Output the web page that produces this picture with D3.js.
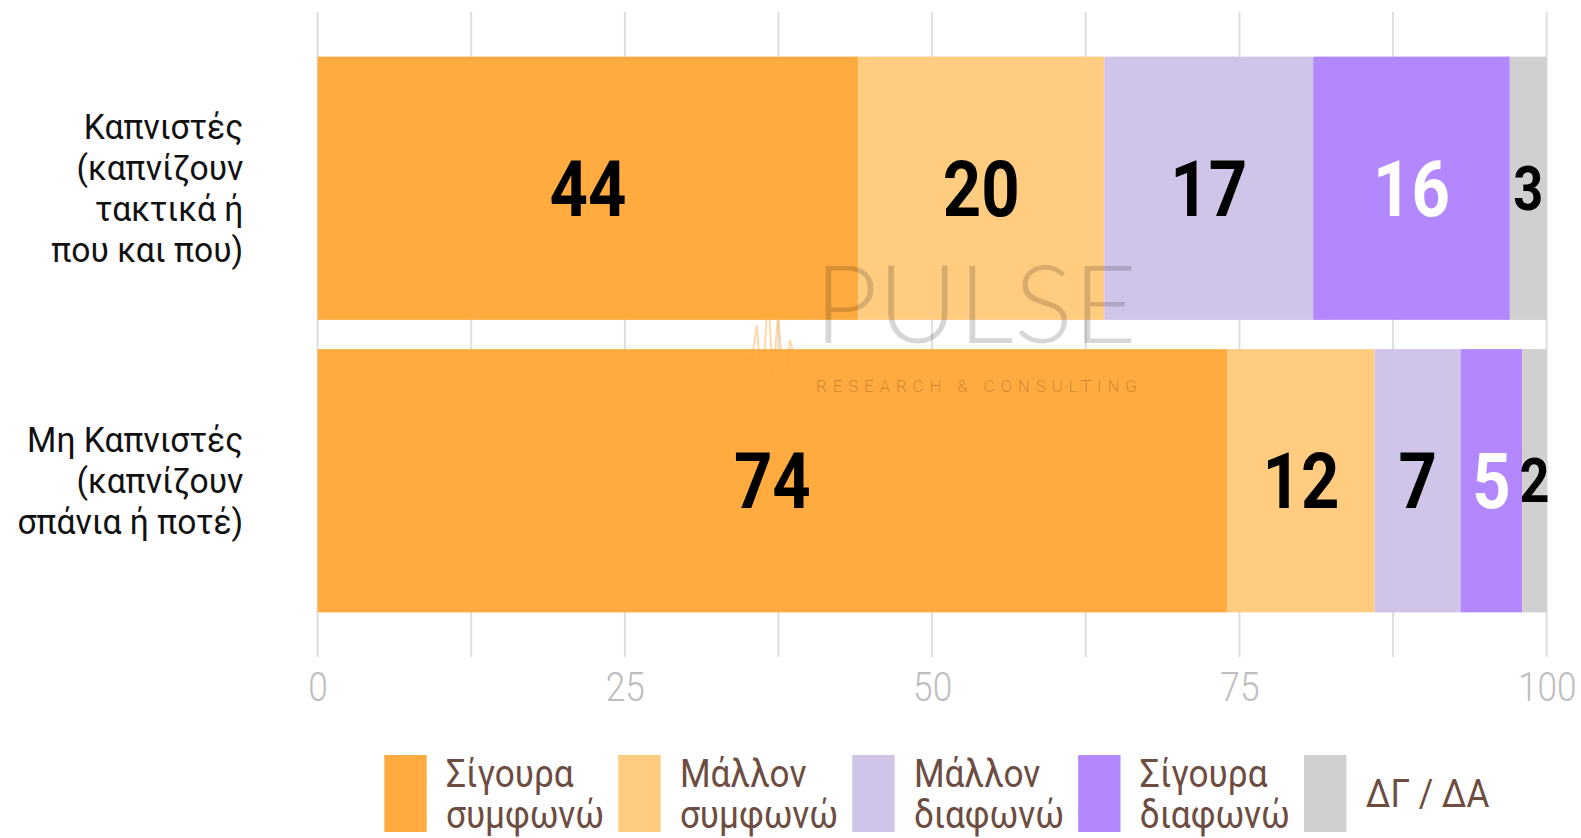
<!DOCTYPE html>
<html lang="el">
<head>
<meta charset="UTF-8">
<title>Καπνιστές</title>
<script src="https://cdn.jsdelivr.net/npm/d3@7/dist/d3.min.js"></script>
<style>
  html, body { margin: 0; padding: 0; background: #fff; }
  text { font-family: Roboto, "Noto Sans", sans-serif; }
</style>
</head>
<body>
<div class="chart"></div>
<script>
// data
const categories = ["Καπνιστές\n(καπνίζουν\nτακτικά ή\nπου και που)", "Μη Καπνιστές\n(καπνίζουν\nσπάνια ή ποτέ)"]
const seriesNames = ["Σίγουρα\nσυμφωνώ", "Μάλλον\nσυμφωνώ", "Μάλλον\nδιαφωνώ", "Σίγουρα\nδιαφωνώ", "ΔΓ / ΔΑ"]
const sigouraSymfono = [44, 74]
const mallonSymfono = [20, 12]
const mallonDiafono = [17, 7]
const sigouraDiafono = [16, 5]
const dgDa = [3, 2]
const xTicks = [0, 25, 50, 75, 100]

const seriesColors = ["#ffab40", "#ffcc80", "#d1c4e9", "#b388ff", "#d0d0d0"]
const labelColors = ["#000", "#000", "#000", "#fff", "#000"]

const W = 1581, H = 838
const sx = 0.86 // fake condensed

let rows = categories.map((c, i) => ({
    cat: c,
    s0: sigouraSymfono[i], s1: mallonSymfono[i], s2: mallonDiafono[i], s3: sigouraDiafono[i], s4: dgDa[i]
}))
let keys = ["s0", "s1", "s2", "s3", "s4"]
let stacked = d3.stack().keys(keys)(rows)

let x = d3.scaleLinear().domain([0, 100]).range([317.6, 1546.7])
let y = d3.scaleBand().domain(categories).range([42, 627]).paddingInner(0.1).paddingOuter(0.05)
let color = d3.scaleOrdinal().domain(keys).range(seriesColors)
let labelColor = d3.scaleOrdinal().domain(keys).range(labelColors)

let svg = d3.select('.chart').append('svg').attr('width', W).attr('height', H)

// gridlines
svg.append('g').selectAll('line').data(d3.range(0, 100.1, 12.5)).join('line')
    .attr('x1', d => x(d)).attr('x2', d => x(d))
    .attr('y1', 12).attr('y2', 657)
    .attr('stroke', '#dedede').attr('stroke-width', 2)

// bars
let layers = svg.append('g').selectAll('g').data(stacked).join('g')
    .attr('fill', d => color(d.key))
layers.selectAll('rect').data(d => d).join('rect')
    .attr('x', d => x(d[0])).attr('width', d => x(d[1]) - x(d[0]))
    .attr('y', d => y(d.data.cat)).attr('height', y.bandwidth())

// watermark
let wm = svg.append('g')
wm.append('path')
    .attr('d', 'M737,360 L752,358 L757,325 L762,397 L768,292 L773,380 L778,315 L784,390 L790,340 L797,366 L807,362 L1040,362')
    .attr('fill', 'none').attr('stroke', '#ffa940').attr('stroke-opacity', 0.45).attr('stroke-width', 2)
wm.append('text').text('PULSE')
    .attr('x', 814).attr('y', 343)
    .attr('textLength', 323).attr('lengthAdjust', 'spacingAndGlyphs')
    .style('font-family', 'Lato, Roboto, sans-serif').style('font-weight', 300).style('font-size', '108px')
    .attr('fill', '#000').attr('fill-opacity', 0.16)
wm.append('text').text('RESEARCH & CONSULTING')
    .attr('x', 816).attr('y', 392)
    .attr('textLength', 321).attr('lengthAdjust', 'spacing')
    .style('font-size', '17px').style('font-weight', 300)
    .attr('fill', '#000').attr('fill-opacity', 0.22)

// bar labels
let barFont = 78
layers.each(function (layer) {
    d3.select(this).selectAll('text').data(layer).join('text')
        .text(d => d[1] - d[0])
        .attr('text-anchor', 'middle')
        .attr('dy', '0.355em')
        .style('font-weight', 700)
        .style('font-size', barFont + 'px')
        .attr('fill', labelColor(layer.key))
        .each(function (d) {
            let t = d3.select(this)
            let segW = x(d[1]) - x(d[0])
            let natW = this.getComputedTextLength() * sx
            if (natW > segW) t.style('font-size', (barFont * 0.78) + 'px')
            let cx = (x(d[0]) + x(d[1])) / 2
            let cy = y(d.data.cat) + y.bandwidth() / 2
            t.attr('transform', 'translate(' + cx + ',' + cy + ') scale(' + sx + ',1)')
        })
})

// multi-line text helper: centre cap-top..last baseline on cy
function multiline(g, str, xPos, cy, fs, lh, anchor, fill, weight, scaleX) {
    let lines = str.split('\n')
    let cap = 0.711 * fs
    let first = cy - (cap + (lines.length - 1) * lh) / 2 + cap
    let t = g.append('text')
        .attr('transform', 'translate(' + xPos + ',' + first + ') scale(' + scaleX + ',1)')
        .attr('text-anchor', anchor).attr('fill', fill)
        .style('font-size', fs + 'px').style('font-weight', weight)
    lines.forEach((l, i) => t.append('tspan').attr('x', 0).attr('y', i * lh).text(l))
    return t
}

// category labels
let catG = svg.append('g')
categories.forEach(c => multiline(catG, c, 243.3, y(c) + y.bandwidth() / 2, 35, 40.8, 'end', '#111', 400, 0.96))

// x axis
let xAxis = svg.append('g').attr('transform', 'translate(0,657)')
    .call(d3.axisBottom(x).tickValues(xTicks).tickSize(0).tickPadding(15).tickFormat(d3.format('d')))
xAxis.select('.domain').remove()
xAxis.selectAll('text')
    .attr('fill', '#bdbdbd')
    .style('font-size', '41px').style('font-weight', 300)
    .attr('transform', 'scale(' + sx + ',1)')

// legend
let keyW = 42.4, keyH = 77, keyY = 755, txtGap = 19.3, itemGap = 14, legSx = 0.9
let leg = svg.append('g').attr('transform', 'translate(384.3,0)')
let cursor = 0
keys.forEach((k, i) => {
    let g = leg.append('g')
    g.append('rect').attr('x', 0).attr('y', keyY).attr('width', keyW).attr('height', keyH).attr('fill', color(k))
    let t = multiline(g, seriesNames[i], keyW + txtGap, keyY + keyH / 2, 39, 40.5, 'start', '#6d4c41', 400, legSx)
    let tw = t.node().getBBox().width * legSx
    g.attr('transform', 'translate(' + cursor + ',0)')
    cursor += keyW + txtGap + tw + itemGap
})
</script>
</body>
</html>
